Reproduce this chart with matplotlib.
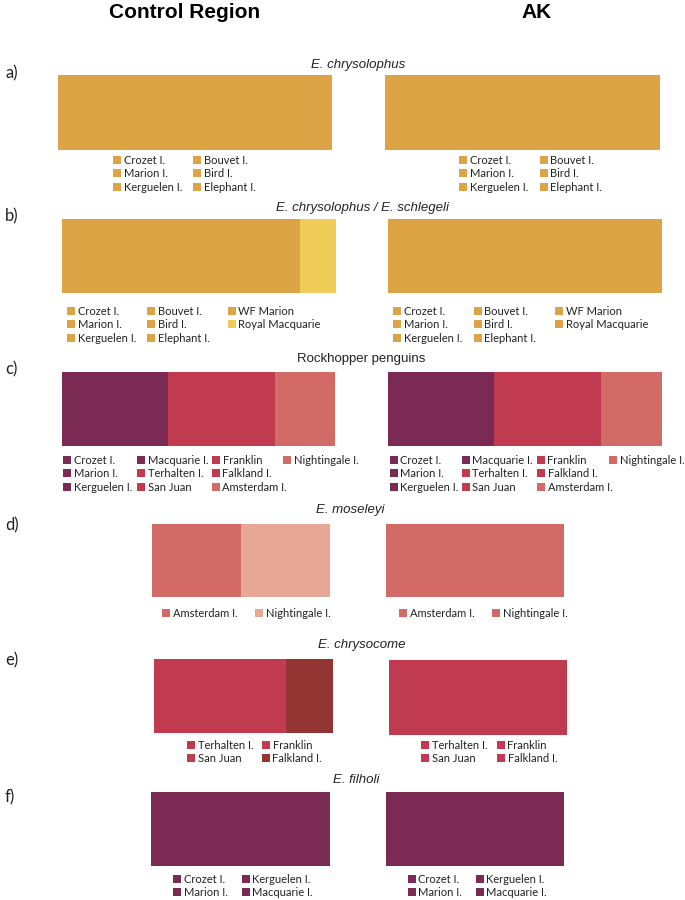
import matplotlib
matplotlib.use("Agg")
import matplotlib.pyplot as plt
from matplotlib.patches import Rectangle

W, H = 685, 900

# colours
GOLD = "#DDA445"
YELLOW = "#EFCB58"
PURPLE = "#7A2A53"
RED = "#C03A50"
SALMON = "#D26A66"
LSALMON = "#E9A796"
BROWN = "#933533"

# ---------------- data ----------------
panel_letters = ["a)", "b)", "c)", "d)", "e)", "f)"]
panel_titles = ["E. chrysolophus", "E. chrysolophus / E. schlegeli", "Rockhopper penguins",
                "E. moseleyi", "E. chrysocome", "E. filholi"]
title_italic = [True, True, False, True, True, True]
column_headers = ["Control Region", "AK"]

# segment proportions and colours (Control Region / AK)
a_cr_props, a_cr_cols = [1.0], [GOLD]
a_ak_props, a_ak_cols = [1.0], [GOLD]
b_cr_props, b_cr_cols = [0.87, 0.13], [GOLD, YELLOW]
b_ak_props, b_ak_cols = [1.0], [GOLD]
c_cr_props, c_cr_cols = [0.388, 0.392, 0.22], [PURPLE, RED, SALMON]
c_ak_props, c_ak_cols = [0.387, 0.39, 0.223], [PURPLE, RED, SALMON]
d_cr_props, d_cr_cols = [0.5, 0.5], [SALMON, LSALMON]
d_ak_props, d_ak_cols = [1.0], [SALMON]
e_cr_props, e_cr_cols = [0.74, 0.26], [RED, BROWN]
e_ak_props, e_ak_cols = [1.0], [RED]
f_cr_props, f_cr_cols = [1.0], [PURPLE]
f_ak_props, f_ak_cols = [1.0], [PURPLE]

# legend labels (column-major) and colours
a_labels = ["Crozet I.", "Marion I.", "Kerguelen I.", "Bouvet I.", "Bird I.", "Elephant I."]
a_cr_lcols = [GOLD] * 6
a_ak_lcols = [GOLD] * 6
b_labels = ["Crozet I.", "Marion I.", "Kerguelen I.", "Bouvet I.", "Bird I.", "Elephant I.",
            "WF Marion", "Royal Macquarie"]
b_cr_lcols = [GOLD] * 7 + [YELLOW]
b_ak_lcols = [GOLD] * 8
c_labels = ["Crozet I.", "Marion I.", "Kerguelen I.", "Macquarie I.", "Terhalten I.", "San Juan",
            "Franklin", "Falkland I.", "Amsterdam I.", "Nightingale I."]
c_cr_lcols = [PURPLE] * 4 + [RED] * 4 + [SALMON] * 2
c_ak_lcols = [PURPLE] * 4 + [RED] * 4 + [SALMON] * 2
d_labels = ["Amsterdam I.", "Nightingale I."]
d_cr_lcols = [SALMON, LSALMON]
d_ak_lcols = [SALMON, SALMON]
e_labels = ["Terhalten I.", "San Juan", "Franklin", "Falkland I."]
e_cr_lcols = [RED, RED, RED, BROWN]
e_ak_lcols = [RED] * 4
f_labels = ["Crozet I.", "Marion I.", "Kerguelen I.", "Macquarie I."]
f_cr_lcols = [PURPLE] * 4
f_ak_lcols = [PURPLE] * 4

panels = [
    (a_cr_props, a_cr_cols, a_ak_props, a_ak_cols, a_labels, a_cr_lcols, a_ak_lcols),
    (b_cr_props, b_cr_cols, b_ak_props, b_ak_cols, b_labels, b_cr_lcols, b_ak_lcols),
    (c_cr_props, c_cr_cols, c_ak_props, c_ak_cols, c_labels, c_cr_lcols, c_ak_lcols),
    (d_cr_props, d_cr_cols, d_ak_props, d_ak_cols, d_labels, d_cr_lcols, d_ak_lcols),
    (e_cr_props, e_cr_cols, e_ak_props, e_ak_cols, e_labels, e_cr_lcols, e_ak_lcols),
    (f_cr_props, f_cr_cols, f_ak_props, f_ak_cols, f_labels, f_cr_lcols, f_ak_lcols),
]

# ---------------- layout (pixels, top-left origin) ----------------
bar_boxes = [
    ((58, 332, 75, 150), (385, 660, 75, 150)),
    ((62, 336, 219, 293), (388, 662, 219, 293)),
    ((62, 335, 372, 446), (388, 662, 372, 446)),
    ((152, 330, 524, 597), (386, 564, 524, 597)),
    ((154, 333, 659, 733), (389, 567, 660, 735)),
    ((151, 330, 792, 866), (386, 564, 792, 866)),
]
title_pos = [(358, 65), (362, 208), (361, 359), (350, 510), (362, 645), (356, 780)]
letter_y = [73, 216, 369, 525, 660, 797]
legend_rows = [3, 3, 3, 1, 2, 2]
legend_cols_x = [
    ([113, 193], [459, 540]),
    ([67, 147, 228], [393, 474, 555]),
    ([63, 137, 212, 283], [390, 462, 537, 609]),
    ([162, 255], [399, 492]),
    ([187, 262], [421, 497]),
    ([173, 242], [408, 476]),
]
legend_y0 = [160, 311, 460, 613, 745, 879]
row_step = 13.3
sq = 8

fig = plt.figure(figsize=(W / 100, H / 100), dpi=100)
fig.patch.set_facecolor("white")


def fx(x):
    return x / W


def fy(y):
    return 1 - y / H


LEG_FONT = ["Lato", "DejaVu Sans"]
HEAD_FONT = ["Liberation Sans Narrow", "Liberation Sans", "DejaVu Sans"]

fig.text(fx(185), fy(13), column_headers[0], ha="center", va="center", fontsize=15,
         fontweight="bold", family=HEAD_FONT)
fig.text(fx(537), fy(13), column_headers[1], ha="center", va="center", fontsize=15,
         fontweight="bold", family=HEAD_FONT)

for i, (cp, cc, ap, ac, labels, clc, alc) in enumerate(panels):
    for side, (props, cols, lcols) in enumerate([(cp, cc, clc), (ap, ac, alc)]):
        x0, x1, t, b = bar_boxes[i][side]
        ax = fig.add_axes([fx(x0), fy(b), (x1 - x0) / W, (b - t) / H])
        left = 0.0
        for p, c in zip(props, cols):
            ax.barh(0.5, p, left=left, height=1.0, color=c, edgecolor="none")
            left += p
        ax.set_xlim(0, 1)
        ax.set_ylim(0, 1)
        ax.axis("off")

        nrows = legend_rows[i]
        xs = legend_cols_x[i][side]
        for k, (lab, col) in enumerate(zip(labels, lcols)):
            ci, ri = divmod(k, nrows)
            lx = xs[ci]
            ly = legend_y0[i] + ri * row_step
            fig.patches.append(Rectangle((fx(lx), fy(ly + sq / 2)), sq / W, sq / H,
                                         transform=fig.transFigure, facecolor=col,
                                         edgecolor="none"))
            fig.text(fx(lx + sq + 2.5), fy(ly + 0.5), lab, ha="left", va="center",
                     fontsize=8.0, family=LEG_FONT, color="#222222")

    tx, ty = title_pos[i]
    fig.text(fx(tx), fy(ty), panel_titles[i], ha="center", va="center", fontsize=9.5,
             style="italic" if title_italic[i] else "normal",
             family=["Liberation Sans", "DejaVu Sans"], color="#222222")
    fig.text(fx(5), fy(letter_y[i]), panel_letters[i], ha="left", va="center", fontsize=12,
             family=LEG_FONT, color="#222222")

fig.savefig("out.png", dpi=100, facecolor="white")
